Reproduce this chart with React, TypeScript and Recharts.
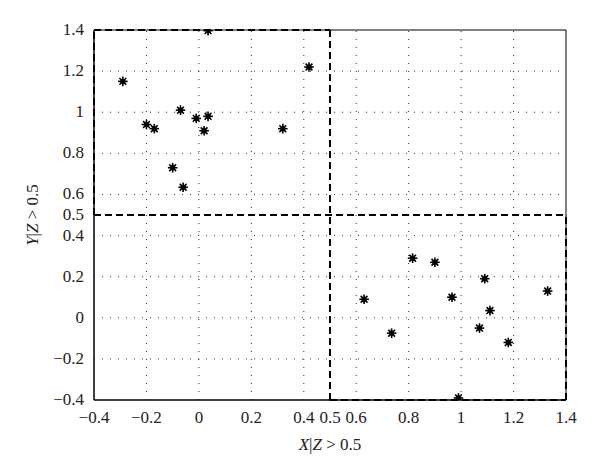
import React from "react";
import {
  ScatterChart,
  Scatter,
  XAxis,
  YAxis,
  ReferenceLine,
  ReferenceArea,
} from "recharts";

// upper-left cluster
const clusterA = [
  { x: -0.29, y: 1.15 },
  { x: 0.035, y: 1.397 },
  { x: 0.42, y: 1.22 },
  { x: -0.2, y: 0.94 },
  { x: -0.17, y: 0.92 },
  { x: -0.07, y: 1.01 },
  { x: -0.01, y: 0.97 },
  { x: 0.035, y: 0.98 },
  { x: 0.02, y: 0.91 },
  { x: 0.32, y: 0.92 },
  { x: -0.1, y: 0.73 },
  { x: -0.06, y: 0.635 },
];

// lower-right cluster
const clusterB = [
  { x: 0.63, y: 0.09 },
  { x: 0.735, y: -0.075 },
  { x: 0.815, y: 0.29 },
  { x: 0.9, y: 0.27 },
  { x: 0.965, y: 0.1 },
  { x: 1.09, y: 0.19 },
  { x: 1.11, y: 0.035 },
  { x: 1.07, y: -0.05 },
  { x: 1.18, y: -0.12 },
  { x: 1.33, y: 0.13 },
  { x: 0.99, y: -0.39 },
];

const xTicks = [-0.4, -0.2, 0, 0.2, 0.4, 0.5, 0.6, 0.8, 1, 1.2, 1.4];
const yTicks = [-0.4, -0.2, 0, 0.2, 0.4, 0.5, 0.6, 0.8, 1, 1.2, 1.4];
const gridVals = [-0.2, 0, 0.2, 0.4, 0.6, 0.8, 1, 1.2];

// dashed partition lines: [x1, y1, x2, y2]
const dashedSegs = [
  [-0.4, 0.5, 1.4, 0.5],
  [0.5, -0.4, 0.5, 1.4],
  [-0.4, 1.4, 0.5, 1.4],
  [-0.4, 0.5, -0.4, 1.4],
  [0.5, -0.4, 1.4, -0.4],
  [1.4, -0.4, 1.4, 0.5],
];

const FONT = "Liberation Serif";

const Star = (props: any) => {
  const { cx, cy } = props;
  const r = 4.8;
  const d = r * 0.707;
  return (
    <g stroke="#000" strokeWidth={1.6}>
      <line x1={cx - r} y1={cy} x2={cx + r} y2={cy} />
      <line x1={cx} y1={cy - r} x2={cx} y2={cy + r} />
      <line x1={cx - d} y1={cy - d} x2={cx + d} y2={cy + d} />
      <line x1={cx - d} y1={cy + d} x2={cx + d} y2={cy - d} />
      <circle cx={cx} cy={cy} r={1.8} fill="#000" />
    </g>
  );
};

const fmt = (v: number) => (v < 0 ? "\u2212" + String(-v) : String(v));

const XTick = (props: any) => {
  const { x, y, payload } = props;
  return (
    <text x={x} y={y + 15} textAnchor="middle" fontFamily={FONT} fontSize={17} fill="#222">
      {fmt(payload.value)}
    </text>
  );
};

const YTick = (props: any) => {
  const { x, y, payload } = props;
  return (
    <text x={x - 2} y={y + 5} textAnchor="end" fontFamily={FONT} fontSize={17} fill="#222">
      {fmt(payload.value)}
    </text>
  );
};

const XLabel = (props: any) => {
  const { viewBox } = props;
  const cx = viewBox.x + viewBox.width / 2;
  return (
    <text x={cx} y={450} textAnchor="middle" fontFamily={FONT} fontSize={17} fill="#222">
      <tspan fontStyle="italic">X</tspan>
      <tspan>|</tspan>
      <tspan fontStyle="italic">Z</tspan>
      <tspan> &gt; 0.5</tspan>
    </text>
  );
};

const YLabel = (props: any) => {
  const { viewBox } = props;
  const cy = viewBox.y + viewBox.height / 2;
  return (
    <text
      x={38}
      y={cy}
      textAnchor="middle"
      fontFamily={FONT}
      fontSize={17}
      fill="#222"
      transform={`rotate(-90 38 ${cy})`}
    >
      <tspan fontStyle="italic">Y</tspan>
      <tspan>|</tspan>
      <tspan fontStyle="italic">Z</tspan>
      <tspan> &gt; 0.5</tspan>
    </text>
  );
};

export default function App() {
  return (
    <div style={{ position: "absolute", left: 0, top: 0, background: "#fff" }}>
      <ScatterChart width={600} height={476} margin={{ top: 30, right: 34, left: 0, bottom: 0 }}>
        <XAxis
          type="number"
          dataKey="x"
          domain={[-0.4, 1.4]}
          ticks={xTicks}
          height={76}
          axisLine={{ stroke: "#000" }}
          tickLine={false}
          tick={<XTick />}
          interval={0}
          allowDataOverflow
          label={<XLabel />}
        />
        <YAxis
          type="number"
          dataKey="y"
          domain={[-0.4, 1.4]}
          ticks={yTicks}
          width={94}
          axisLine={{ stroke: "#000" }}
          tickLine={false}
          tick={<YTick />}
          interval={0}
          allowDataOverflow
          label={<YLabel />}
        />
        {gridVals.map((v) => (
          <ReferenceLine key={"gx" + v} x={v} stroke="#333" strokeDasharray="1 7" />
        ))}
        {gridVals.map((v) => (
          <ReferenceLine key={"gy" + v} y={v} stroke="#333" strokeDasharray="1 7" />
        ))}
        <ReferenceArea x1={-0.4} x2={1.4} y1={-0.4} y2={1.4} fill="none" stroke="#000" strokeWidth={1} />
        {dashedSegs.map((s, i) => (
          <ReferenceLine
            key={"d" + i}
            segment={[
              { x: s[0], y: s[1] },
              { x: s[2], y: s[3] },
            ]}
            stroke="#000"
            strokeWidth={2}
            strokeDasharray="7 4"
          />
        ))}
        <Scatter data={clusterA} shape={<Star />} isAnimationActive={false} />
        <Scatter data={clusterB} shape={<Star />} isAnimationActive={false} />
      </ScatterChart>
    </div>
  );
}
